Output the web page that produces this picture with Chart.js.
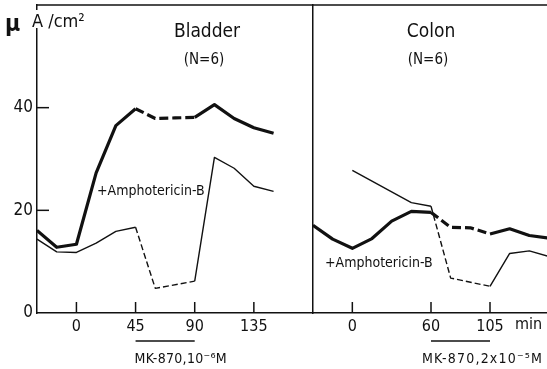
<!DOCTYPE html>
<html>
<head>
<meta charset="utf-8">
<script src="https://cdn.jsdelivr.net/npm/chart.js@4.4.0/dist/chart.umd.min.js"></script>
<style>
  html, body { margin: 0; padding: 0; background: #fff; overflow: hidden; }
  #wrap { position: relative; width: 547px; height: 369px; overflow: hidden; }
  canvas { position: absolute; top: 0; }
  #bladder { left: 0; }
  #colon { left: 300px; }
</style>
</head>
<body>
<div id="wrap">
  <canvas id="bladder" width="313" height="369"></canvas>
  <canvas id="colon" width="249" height="369"></canvas>
</div>
<script>
// short-circuit current (uA/cm2) vs time (min)
const bladderTimeAmpho = [-30, -15, 0, 15, 30, 45, 60, 75, 90, 105, 120, 135, 150];
const bladderAmpho     = [16.1, 12.8, 13.4, 27.3, 36.5, 39.8, 37.9, 38.0, 38.1, 40.6, 37.9, 36.1, 35.0];
const bladderTimeCtrl  = [-30, -15, 0, 15, 30, 45, 60, 90, 105, 120, 135, 150];
const bladderCtrl      = [14.4, 11.9, 11.8, 13.6, 15.9, 16.7, 4.8, 6.2, 30.3, 28.2, 24.7, 23.7];

const colonTimeAmpho = [-30, -15, 0, 15, 30, 45, 60, 75, 90, 105, 120, 135, 150];
const colonAmpho     = [17.1, 14.4, 12.6, 14.5, 17.9, 19.8, 19.6, 16.7, 16.6, 15.4, 16.4, 15.1, 14.6];
const colonTimeCtrl  = [0, 45, 60, 75, 105, 120, 135, 150];
const colonCtrl      = [27.8, 21.5, 20.8, 6.8, 5.2, 11.6, 12.1, 11.0];

const bladderTicks = [0, 45, 90, 135];
const colonTicks = [0, 60, 105];
const yTicks = [0, 20, 40];
const bladderDrug = [45, 90];   // MK-870 10^-6 M
const colonDrug = [60, 105];    // MK-870 2x10^-5 M

const INK = '#111';
const FONT = '"DejaVu Sans Condensed", "Liberation Sans Narrow", "DejaVu Sans", sans-serif';

const toPoints = (xs, ys) => xs.map((x, i) => ({ x: x, y: ys[i] }));

function series(xs, ys, width, drug, dash) {
  return {
    data: toPoints(xs, ys),
    borderColor: INK,
    borderWidth: width,
    pointRadius: 0,
    tension: 0,
    fill: false,
    borderJoinStyle: 'round',
    segment: {
      borderDash: ctx => (ctx.p0.parsed.x >= drug[0] && ctx.p1.parsed.x <= drug[1]) ? dash : undefined
    }
  };
}

function line(ctx, x1, y1, x2, y2, w) {
  ctx.beginPath();
  ctx.lineWidth = w;
  ctx.moveTo(x1, y1);
  ctx.lineTo(x2, y2);
  ctx.stroke();
}

function text(ctx, str, x, y, size, align, spacing) {
  ctx.font = size + 'px ' + FONT;
  ctx.textAlign = align || 'left';
  ctx.textBaseline = 'middle';
  ctx.letterSpacing = (spacing || 0) + 'px';
  ctx.fillText(str, x, y);
  ctx.letterSpacing = '0px';
}

// frame, inward ticks and the labels printed on the figure
function decor(opts) {
  return {
    id: 'decor',
    afterDraw(chart) {
      const ctx = chart.ctx, a = chart.chartArea;
      const xs = chart.scales.x, ys = chart.scales.y;
      ctx.save();
      ctx.strokeStyle = INK;
      ctx.fillStyle = INK;
      ctx.lineCap = 'butt';
      line(ctx, a.left, a.top, a.right, a.top, 1.5);
      opts.xTicks.forEach(v => {
        const px = xs.getPixelForValue(v);
        line(ctx, px, a.bottom, px, a.bottom - 11, 1.5);
      });
      if (opts.yTickMarks) {
        yTicks.filter(v => v > 0).forEach(v => {
          const py = ys.getPixelForValue(v);
          line(ctx, a.left, py, a.left + 12, py, 1.5);
        });
      }
      // drug application bar
      const b0 = xs.getPixelForValue(opts.drug[0]), b1 = xs.getPixelForValue(opts.drug[1]);
      line(ctx, b0, 341, b1, 341, 1.5);
      text(ctx, opts.drugLabel, b0 + opts.drugLabelShift, 359, 14, 'left', opts.drugSpacing);
      text(ctx, opts.title, opts.titleX, 32, 19, 'center');
      text(ctx, opts.n, opts.titleX - 3, 60, 15, 'center');
      text(ctx, '+Amphotericin-B', opts.ampho[0], opts.ampho[1], 14);
      if (opts.unit) {
        ctx.fillStyle = '#fff';
        ctx.fillRect(31, 10, 15, 18);
        ctx.fillStyle = INK;
        ctx.font = 'bold 23px ' + FONT;
        ctx.textAlign = 'left';
        ctx.textBaseline = 'alphabetic';
        ctx.fillText('\u00b5', 5, 31);
        ctx.font = '18px ' + FONT;
        ctx.fillText('A /cm\u00b2', 32, 27);
      }
      if (opts.minLabel) text(ctx, 'min', opts.minLabel, 325, 16);
      ctx.restore();
    }
  };
}

function makeChart(id, datasets, xMax, ticks, yWidth, showY, opts) {
  return new Chart(document.getElementById(id), {
    type: 'line',
    data: { datasets: datasets },
    options: {
      responsive: false,
      animation: false,
      layout: { padding: { top: 5, left: 0, right: 0, bottom: 0 } },
      plugins: { legend: { display: false }, tooltip: { enabled: false } },
      scales: {
        x: {
          type: 'linear',
          min: -30,
          max: xMax,
          afterBuildTicks: s => { s.ticks = ticks.map(v => ({ value: v })); },
          afterFit: s => { s.height = 56; s.paddingLeft = 0; s.paddingRight = 0; },
          grid: { display: false, drawTicks: false },
          border: { display: true, color: INK, width: 1.5 },
          ticks: { color: INK, font: { family: FONT, size: 16 }, padding: 4, maxRotation: 0 }
        },
        y: {
          min: 0,
          max: 60,
          afterBuildTicks: s => { s.ticks = yTicks.map(v => ({ value: v })); },
          afterFit: s => { s.width = yWidth; s.paddingTop = 0; s.paddingBottom = 0; },
          grid: { display: false, drawTicks: false },
          border: { display: true, color: INK, width: 1.5 },
          ticks: { display: showY, color: INK, font: { family: FONT, size: 17 }, padding: 4 }
        }
      }
    },
    plugins: [decor(opts)]
  });
}

makeChart('bladder', [
  series(bladderTimeAmpho, bladderAmpho, 3.2, bladderDrug, [9, 4]),
  series(bladderTimeCtrl, bladderCtrl, 1.4, bladderDrug, [6, 3])
], 180, bladderTicks, 37, true, {
  xTicks: bladderTicks, yTickMarks: true, drug: bladderDrug,
  drugLabel: 'MK-870,10\u207b\u2076M', drugLabelShift: -1, drugSpacing: 0.3,
  title: 'Bladder', n: '(N=6)', titleX: 207, ampho: [97, 191], unit: true
});

makeChart('colon', [
  series(colonTimeAmpho, colonAmpho, 3.2, colonDrug, [9, 4]),
  series(colonTimeCtrl, colonCtrl, 1.4, colonDrug, [6, 3])
], 150, colonTicks, 13, false, {
  xTicks: colonTicks, yTickMarks: false, drug: colonDrug,
  drugLabel: 'MK-870,2x10\u207b\u2075M', drugLabelShift: -9, drugSpacing: 1.2,
  title: 'Colon', n: '(N=6)', titleX: 131, ampho: [25, 263], minLabel: 215
});
</script>
</body>
</html>
